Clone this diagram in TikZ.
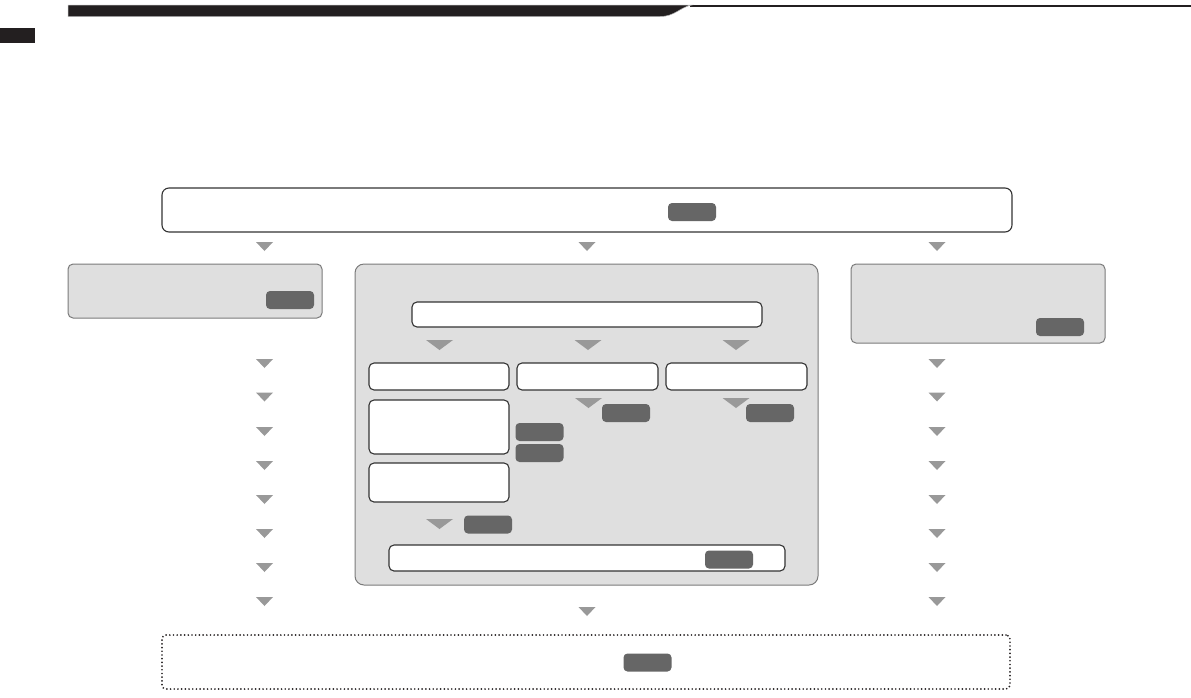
\documentclass[tikz,border=0pt]{standalone}
\usetikzlibrary{calc}
\definecolor{barblack}{HTML}{231F20}
\definecolor{boxgray}{HTML}{DFDFDF}
\definecolor{boxedge}{HTML}{7A7A7A}
\definecolor{badgegray}{HTML}{666666}
\definecolor{trigray}{HTML}{999999}
\definecolor{wedge}{HTML}{333333}
\tikzset{
  graybox/.style={draw=boxedge, fill=boxgray, line width=1pt, rounded corners=5pt, inner sep=0pt},
  bigbox/.style={graybox, rounded corners=9pt},
  whitebox/.style={draw=wedge, fill=white, line width=1.1pt, rounded corners=5pt, inner sep=0pt},
  badge/.style={fill=badgegray, rounded corners=4pt, minimum width=48pt, minimum height=18pt, inner sep=0pt},
  dotbox/.style={draw=barblack, line width=1.9pt, dash pattern=on 0pt off 3.7pt, line cap=round, inner sep=0pt},
  smalltri/.pic={\fill[trigray] (-8.5,0) -- (8.5,0) -- (0,9) -- cycle;},
  widetri/.pic={\fill[trigray] (-13.5,0) -- (13.5,0) -- (0,10) -- cycle;},
}
\begin{document}
\begin{tikzpicture}[x=1pt,y=-1pt]
\useasboundingbox (0,0) rectangle (1191,697);
% header
\fill[barblack] (0,28) rectangle (35,43);
\draw[barblack, line width=1.1pt] (690,6) -- (1191,6);
\fill[barblack, draw=gray!60, line width=0.5pt] (68,5) -- (692,5) .. controls (680,7) and (675,16.5) .. (660,16.5) -- (68,16.5) -- cycle;
% top box
\node[whitebox, rounded corners=7pt, minimum width=850pt, minimum height=44pt] (top) at (587,210) {};
\node[badge] (topb) at (692,212) {};
\pic at (264.5,242) {smalltri};
\pic at (587,242) {smalltri};
\pic at (937,242) {smalltri};
% left gray box
\node[graybox, minimum width=254pt, minimum height=54pt] (left) at (195,291) {};
\node[badge] (leftb) at (290,300) {};
% right gray box
\node[graybox, minimum width=254pt, minimum height=79pt] (right) at (978,303.5) {};
\node[badge] (rightb) at (1060,327) {};
% middle big box
\node[bigbox, minimum width=463pt, minimum height=321pt] (mid) at (586.5,424.5) {};
\node[whitebox, minimum width=350pt, minimum height=25pt] (mtop) at (587,314.5) {};
\pic at (439.5,340) {widetri};
\pic at (588,340) {widetri};
\pic at (736,340) {widetri};
\node[whitebox, minimum width=140pt, minimum height=27pt] (ma) at (439,376.5) {};
\node[whitebox, minimum width=141pt, minimum height=27pt] (mb) at (587.5,376.5) {};
\node[whitebox, minimum width=141pt, minimum height=27pt] (mc) at (736.5,376.5) {};
\node[whitebox, minimum width=140pt, minimum height=54pt] (ma2) at (439,427) {};
\node[whitebox, minimum width=140pt, minimum height=39pt] (ma3) at (439,482.5) {};
\pic at (588.5,398) {widetri};
\pic at (736,398) {widetri};
\node[badge] (mbb) at (626,413) {};
\node[badge] (mcb) at (770,413) {};
\node[badge] (mab1) at (539.5,432) {};
\node[badge] (mab2) at (539.5,453) {};
\pic at (439.5,519) {widetri};
\node[badge] (mab3) at (488,524.5) {};
\node[whitebox, minimum width=396pt, minimum height=26pt] (mbot) at (587,558) {};
\node[badge] (mbotb) at (729,559.5) {};
% side column triangles
\foreach \yy in {359,392.5,427,461,495,529,563,597}{
  \pic at (264.5,\yy) {smalltri};
  \pic at (937,\yy) {smalltri};
}
\pic at (587,607) {smalltri};
% bottom dotted box
\node[dotbox, rounded corners=4pt, minimum width=848pt, minimum height=54pt] (bot) at (586,662) {};
\node[badge] (botb) at (647.5,662.5) {};
\end{tikzpicture}
\end{document}
